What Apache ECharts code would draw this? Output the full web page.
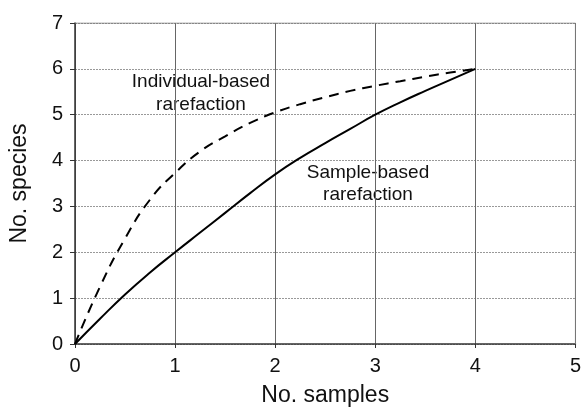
<!DOCTYPE html>
<html>
<head>
<meta charset="utf-8">
<script src="https://cdn.jsdelivr.net/npm/echarts@6/dist/echarts.min.js"></script>
<style>
  html, body { margin: 0; padding: 0; background: #fff; }
  #chart { width: 584px; height: 412px; }
</style>
</head>
<body>
<div id="chart"></div>
<script>
// values
const samplesX = [0, 0.25, 0.5, 0.75, 1, 1.25, 1.5, 1.75, 2, 2.25, 2.5, 2.75, 3, 3.25, 3.5, 3.75, 4];
const individualY = [0, 1.25, 2.3, 3.15, 3.73, 4.2, 4.53, 4.82, 5.05, 5.23, 5.38, 5.52, 5.63, 5.73, 5.83, 5.92, 6];
const sampleY = [0, 0.55, 1.08, 1.56, 2.0, 2.43, 2.86, 3.29, 3.7, 4.06, 4.38, 4.69, 5.0, 5.27, 5.52, 5.76, 6];
const xTicks = [0, 1, 2, 3, 4, 5];
const yTicks = [0, 1, 2, 3, 4, 5, 6, 7];

const font = 'Liberation Sans, Arial, sans-serif';
const chart = echarts.init(document.getElementById('chart'));

chart.setOption({
  animation: false,
  grid: { left: 73, right: 6, top: 23, bottom: 67 },
  xAxis: {
    type: 'value',
    min: xTicks[0],
    max: xTicks[xTicks.length - 1],
    interval: 1,
    name: 'No. samples',
    nameLocation: 'middle',
    nameGap: 40,
    nameTextStyle: { fontFamily: font, fontSize: 23, color: '#111' },
    axisLine: { lineStyle: { color: '#333', width: 1.5 } },
    axisTick: { show: true, length: 4, lineStyle: { color: '#333' } },
    axisLabel: { fontFamily: font, fontSize: 20, color: '#111', margin: 12 },
    splitLine: { show: true, lineStyle: { color: '#666', width: 1 } }
  },
  yAxis: {
    type: 'value',
    min: yTicks[0],
    max: yTicks[yTicks.length - 1],
    interval: 1,
    name: 'No. species',
    nameLocation: 'middle',
    nameGap: 44,
    nameTextStyle: { fontFamily: font, fontSize: 23, color: '#111' },
    axisLine: { show: true, lineStyle: { color: '#333', width: 1.5 } },
    axisTick: { show: true, length: 5, lineStyle: { color: '#333' } },
    axisLabel: { fontFamily: font, fontSize: 20, color: '#111', margin: 12 },
    splitLine: { show: true, lineStyle: { color: '#999', width: 1, type: [2, 1] } }
  },
  series: [
    {
      name: 'Individual-based rarefaction',
      type: 'line',
      data: samplesX.map((x, i) => [x, individualY[i]]),
      smooth: 0.5,
      showSymbol: false,
      lineStyle: { color: '#000', width: 2, type: [10, 7] },
      z: 3
    },
    {
      name: 'Sample-based rarefaction',
      type: 'line',
      data: samplesX.map((x, i) => [x, sampleY[i]]),
      smooth: 0.5,
      showSymbol: false,
      lineStyle: { color: '#000', width: 2 },
      z: 3
    },
    {
      // top/right frame
      type: 'line',
      data: [[0, 7], [5, 7], [5, 0]],
      showSymbol: false,
      silent: true,
      lineStyle: { color: '#777', width: 1 },
      z: 2
    }
  ],
  graphic: [
    {
      type: 'text',
      x: 201, y: 70,
      style: { text: 'Individual-based\nrarefaction', align: 'center', verticalAlign: 'top',
        font: '19px ' + font, fill: '#111', lineHeight: 23 }
    },
    {
      type: 'text',
      x: 368, y: 162,
      style: { text: 'Sample-based\nrarefaction', align: 'center', verticalAlign: 'top',
        font: '19px ' + font, fill: '#111', lineHeight: 22 }
    }
  ]
});
</script>
</body>
</html>
